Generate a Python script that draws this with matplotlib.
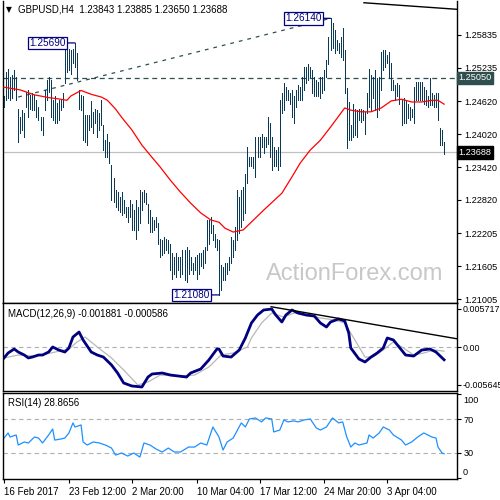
import matplotlib
matplotlib.use("Agg")
import matplotlib.pyplot as plt
import numpy as np

plt.rcParams['font.family'] = ['Liberation Sans', 'DejaVu Sans']

# ---------------- data ----------------
highs = [
    1.2471,1.2516,1.2522,1.2507,1.2510,1.2519,1.2507,1.2449,1.2434,1.2446,1.2440,1.2480,1.2483,1.2474,1.2477,1.2474,1.2465,1.2452,1.2434,1.2434,
    1.2483,1.2501,1.2507,1.2501,1.2465,1.2471,1.2459,1.2465,1.2465,1.2477,1.2556,1.2559,1.2557,1.2556,1.2557,1.2569,1.2550,1.2483,1.2474,1.2471,
    1.2437,1.2437,1.2437,1.2462,1.2443,1.2449,1.2446,1.2440,1.2465,1.2419,1.2391,1.2403,1.2388,
    1.2346,1.2321,1.2300,1.2297,1.2288,1.2297,1.2281,1.2269,1.2269,1.2281,1.2275,1.2263,1.2281,1.2269,1.2300,1.2297,1.2300,1.2294,1.2275,1.2263,
    1.2251,1.2245,1.2251,1.2239,1.2211,1.2208,1.2214,1.2211,1.2208,1.2202,1.2184,1.2178,1.2184,1.2178,1.2178,1.2190,1.2190,1.2196,1.2190,1.2178,
    1.2166,1.2178,1.2181,1.2184,1.2184,1.2190,1.2196,1.2245,1.2245,1.2251,1.2236,1.2220,1.2211,1.2208,1.2163,
    1.2159,1.2166,1.2166,1.2178,1.2214,1.2208,1.2233,1.2300,1.2288,1.2300,1.2306,1.2330,1.2379,1.2361,1.2361,1.2361,1.2397,1.2397,1.2397,1.2403,
    1.2397,1.2397,1.2434,1.2422,1.2397,1.2379,1.2373,1.2379,1.2465,1.2477,1.2495,1.2489,1.2483,1.2477,1.2483,1.2471,1.2483,1.2492,1.2489,1.2507,
    1.2525,1.2525,1.2531,1.2525,1.2519,1.2507,1.2501,1.2498,1.2507,1.2507,1.2519,1.2538,1.2580,
    1.2614,1.2605,1.2593,1.2574,1.2568,1.2580,1.2596,1.2556,
    1.2486,1.2461,1.2419,1.2458,1.2449,1.2446,1.2449,1.2449,1.2446,1.2443,1.2477,1.2522,1.2510,1.2507,1.2519,1.2504,1.2507,1.2553,1.2556,1.2556,
    1.2547,1.2553,1.2532,1.2501,1.2492,1.2495,1.2492,1.2465,1.2468,1.2465,1.2458,1.2452,1.2449,1.2489,1.2498,1.2498,1.2498,1.2498,1.2489,1.2483,
    1.2471,1.2504,1.2477,1.2474,1.2477,1.2477,1.2413,1.2410,1.2388]
lows = [
    1.2452,1.2464,1.2468,1.2464,1.2468,1.2483,1.2464,1.2388,1.2404,1.2410,1.2397,1.2452,1.2434,1.2449,1.2446,1.2446,1.2434,1.2428,1.2410,1.2401,
    1.2446,1.2465,1.2480,1.2434,1.2428,1.2422,1.2422,1.2428,1.2446,1.2452,1.2495,1.2516,1.2519,1.2513,1.2532,1.2525,1.2501,1.2449,1.2446,1.2391,
    1.2388,1.2382,1.2410,1.2416,1.2404,1.2422,1.2397,1.2410,1.2419,1.2373,1.2361,1.2361,1.2349,
    1.2281,1.2278,1.2269,1.2263,1.2260,1.2254,1.2257,1.2251,1.2242,1.2251,1.2227,1.2227,1.2211,1.2227,1.2239,1.2263,1.2278,1.2275,1.2239,1.2224,
    1.2224,1.2227,1.2233,1.2202,1.2178,1.2181,1.2184,1.2190,1.2184,1.2154,1.2138,1.2147,1.2141,1.2154,1.2141,1.2147,1.2135,1.2132,1.2147,1.2154,
    1.2147,1.2154,1.2138,1.2147,1.2160,1.2157,1.2166,1.2190,1.2202,1.2221,1.2208,1.2196,1.2190,1.2108,1.2117,
    1.2135,1.2135,1.2147,1.2154,1.2166,1.2178,1.2190,1.2208,1.2221,1.2233,1.2245,1.2257,1.2312,1.2343,1.2343,1.2340,1.2324,1.2361,1.2361,1.2379,
    1.2367,1.2379,1.2385,1.2361,1.2336,1.2343,1.2343,1.2336,1.2343,1.2440,1.2446,1.2465,1.2465,1.2458,1.2434,1.2422,1.2452,1.2465,1.2465,1.2465,
    1.2483,1.2495,1.2501,1.2507,1.2477,1.2471,1.2471,1.2471,1.2468,1.2477,1.2483,1.2507,1.2531,
    1.2556,1.2559,1.2550,1.2556,1.2550,1.2544,1.2538,1.2477,
    1.2376,1.2391,1.2391,1.2397,1.2400,1.2397,1.2428,1.2425,1.2428,1.2403,1.2440,1.2452,1.2446,1.2468,1.2446,1.2434,1.2446,1.2483,1.2519,1.2525,
    1.2532,1.2504,1.2483,1.2483,1.2465,1.2471,1.2458,1.2419,1.2422,1.2422,1.2431,1.2428,1.2434,1.2422,1.2465,1.2465,1.2465,1.2465,1.2458,1.2455,
    1.2452,1.2455,1.2455,1.2452,1.2452,1.2428,1.2382,1.2382,1.2365]

ma_idx = [0,8,15,22,28,31,33,38,43,48,51,55,58,63,68,72,77,82,87,92,97,102,106,109,113,118,123,128,137,142,146,151,156,161,168,171,176,181,186,191,196,201,206,211,214,217]
ma_val = [1.2488,1.2483,1.2474,1.2469,1.2466,1.2464,1.2472,1.2482,1.2475,1.2470,1.2464,1.2448,1.2433,1.2410,1.2382,1.2364,1.2342,1.2318,1.2296,1.2276,
          1.2258,1.2245,1.2241,1.2230,1.2223,1.2227,1.2245,1.2263,1.2294,1.2324,1.2349,1.2373,1.2391,1.2415,1.2450,1.2446,1.2443,1.2443,1.2450,1.2463,
          1.2466,1.2461,1.2461,1.2464,1.2464,1.2457]

macd_idx = [0,2,5,7,10,12,14,17,19,22,24,27,30,32,34,37,39,43,46,49,53,56,59,63,68,71,73,78,82,86,90,92,97,101,105,106,108,112,116,119,
            122,125,128,132,134,137,139,142,145,149,153,156,159,161,165,168,170,171,175,178,181,184,187,189,192,194,198,202,206,210,213,217]
macd_val = [-0.00161,-0.00087,-0.00027,-0.00072,-0.00117,-0.00161,-0.00147,-0.00117,-0.00117,-0.00072,0.00003,-0.00042,-0.00072,-0.00012,0.00152,0.00227,
            0.00108,-0.00072,-0.00117,-0.00147,-0.00266,-0.00386,-0.00535,-0.00580,-0.00595,-0.00446,-0.00401,-0.00386,-0.00416,-0.00431,-0.00446,-0.00386,
            -0.00326,-0.00191,-0.00027,-0.00027,-0.00132,-0.00147,-0.00042,0.00138,0.00362,0.00481,0.00556,0.00571,0.00481,0.00377,0.00481,0.00556,
            0.00511,0.00481,0.00466,0.00362,0.00302,0.00377,0.00422,0.00392,0.00212,-0.00012,-0.00176,-0.00221,-0.00147,-0.00087,-0.00012,0.00138,
            0.00108,0.00033,-0.00117,-0.00132,-0.00042,-0.00027,-0.00072,-0.00188]

signal_idx = [0,7,15,23,32,36,40,46,53,59,66,71,77,86,94,101,107,113,120,122,127,132,138,143,150,156,163,168,173,178,182,187,192,197,202,207,212,217]
signal_val = [-0.00161,-0.00117,-0.00132,-0.00087,-0.00027,0.00078,0.00152,0.00003,-0.00161,-0.00341,-0.00565,-0.00520,-0.00416,-0.00431,-0.00416,
              -0.00296,-0.00117,-0.00087,0.00003,0.00138,0.00362,0.00511,0.00451,0.00511,0.00481,0.00437,0.00407,0.00362,0.00108,-0.00147,-0.00147,
              -0.00042,0.00078,-0.00012,-0.00117,-0.00087,-0.00042,-0.00059]

rsi_idx = [0,2,3,6,7,10,12,15,17,19,22,24,25,28,30,32,34,35,38,39,41,44,47,50,53,55,58,61,64,67,69,72,75,78,81,84,87,91,94,97,100,103,106,108,110,113,
           117,119,121,124,127,129,132,133,136,138,140,143,145,148,151,154,156,159,162,165,167,169,171,173,175,179,180,182,185,187,190,192,196,198,201,
           204,207,209,211,213,214,216,217]
rsi_val = [47.6,53.6,48.8,51.2,39.3,42.9,41.7,48.8,47.6,41.7,51.2,58.3,45.2,46.4,47.6,53.6,65.5,60.7,63.1,42.9,39.3,42.9,41.7,39.3,35.7,27.4,29.8,26.2,
           29.8,25.0,41.7,39.3,34.5,31.0,35.7,31.0,31.0,36.9,36.9,41.7,39.3,60.7,48.8,33.3,42.9,47.6,65.5,60.7,70.2,71.4,66.7,71.4,70.2,54.8,57.1,69.0,
           66.7,67.9,66.7,69.0,70.2,59.5,57.1,60.7,71.4,65.5,66.7,48.8,36.9,41.7,39.3,41.7,51.2,47.6,53.6,60.7,57.1,51.2,45.2,39.3,42.9,48.8,53.6,51.2,
           48.8,47.6,36.9,29.8,28.9]

price_ticks = [1.25835, 1.25235, 1.24620, 1.24020, 1.23420, 1.22820, 1.22205, 1.21605, 1.21005]
level_line = 1.25050
last_price = 1.23688
ohlc_text = "1.23843 1.23885 1.23650 1.23688"
symbol = "GBPUSD,H4"
high_labels = [(35, 1.25690), (161, 1.26140)]
low_labels = [(106, 1.21080)]
trend_dash = [(7, 1.2470), (161, 1.26140)]
trend_top = [(177.5, 1.26425), (223.4, 1.26305)]
macd_trend = [(131.7, 0.00605), (223.9, 0.00123)]
macd_ticks = [0.005717, 0.0, -0.005645]
macd_tick_labels = ['0.005717', '0.00', '-0.005645']
date_idx = [0, 32, 63, 95, 126, 158, 189]
date_labels = ['16 Feb 2017', '23 Feb 12:00', '2 Mar 20:00', '10 Mar 04:00', '17 Mar 12:00', '24 Mar 20:00', '3 Apr 04:00']

# ---------------- figure ----------------
W = H = 500
fig = plt.figure(figsize=(5, 5), dpi=100)
fig.patch.set_facecolor('white')

def axrect(x0, y0, x1, y1):
    return [x0 / W, 1 - y1 / H, (x1 - x0) / W, (y1 - y0) / H]

ax = fig.add_axes(axrect(3, 1, 457, 303))
axm = fig.add_axes(axrect(3, 303, 457, 391), sharex=ax)
axr = fig.add_axes(axrect(3, 393, 457, 479), sharex=ax)

n = len(highs)
xs = np.arange(n)
ax.set_xlim(-0.5, -0.5 + 454 / 2.028)

bar_col = '#0b3a59'
navy = '#000080'
slate = '#2f4f4f'
fs = 6.6

# main panel
ax.set_ylim(1.20932, 1.26457)
ax.axhline(last_price, color='#c0c0c0', lw=0.9, zorder=1)
ax.axhline(level_line, color=slate, lw=0.9, ls=(0, (4, 3)), zorder=2)
ax.plot([p[0] for p in trend_dash], [p[1] for p in trend_dash], color=slate, lw=0.9, ls=(0, (3, 4)), zorder=2)
ax.plot([p[0] for p in trend_top], [p[1] for p in trend_top], color='black', lw=1.0, zorder=2, clip_on=False)
ax.vlines(xs, lows, highs, color=bar_col, lw=0.72, antialiased=False, zorder=3)
ax.plot(ma_idx, ma_val, color='red', lw=0.9, zorder=4)

ax.text(0.58, 0.095, 'ActionForex.com', fontsize=17, color='#c8c8c8', ha='left', va='center',
        transform=ax.transAxes, zorder=0)

for (i, p) in high_labels + low_labels:
    ax.annotate(f'{p:.5f}', xy=(i, p), xytext=(-9, 0), textcoords='offset pixels',
                ha='right', va='center', fontsize=fs + 0.6, color=navy,
                bbox=dict(boxstyle='square,pad=0.12', fc='white', ec=navy, lw=0.9),
                arrowprops=dict(arrowstyle='-', color=navy, lw=0.9, shrinkA=0, shrinkB=0), zorder=6)

fig.text(6 / W, 1 - 10 / H, '\u25bc', fontsize=5.5, color='black', va='center', ha='left', family=['DejaVu Sans'])
fig.text(18 / W, 1 - 10 / H, f'{symbol}  {ohlc_text}', fontsize=fs + 0.4, color='black', va='center', ha='left')

ax.yaxis.tick_right()
ax.set_yticks(price_ticks)
ax.set_yticklabels([f'{t:.5f}' for t in price_ticks])
ax.tick_params(axis='y', labelsize=fs, length=3, pad=2, colors='black')
ax.tick_params(axis='x', bottom=False, labelbottom=False)
ax.spines['top'].set_visible(False)

ytr = ax.get_yaxis_transform()
ax.text(1.003, level_line, f'{level_line:.5f}', transform=ytr, fontsize=fs, color='white', va='center', ha='left',
        bbox=dict(boxstyle='square,pad=0.2', fc=slate, ec=slate), clip_on=False, zorder=10)
ax.text(1.003, last_price, f'{last_price:.5f}', transform=ytr, fontsize=fs, color='white', va='center', ha='left',
        bbox=dict(boxstyle='square,pad=0.2', fc='black', ec='black'), clip_on=False, zorder=10)

# MACD panel
axm.set_ylim(-0.00655, 0.00661)
axm.axhline(0, color='#b0b0b0', lw=0.8, ls=(0, (4, 3)))
axm.plot(signal_idx, signal_val, color='#b8b8b8', lw=0.9)
axm.plot(macd_idx, macd_val, color=navy, lw=2.0)
axm.plot([p[0] for p in macd_trend], [p[1] for p in macd_trend], color='black', lw=1.0)
axm.yaxis.tick_right()
axm.set_yticks(macd_ticks)
axm.set_yticklabels(macd_tick_labels)
axm.tick_params(axis='y', labelsize=6.4, length=3, pad=1)
axm.tick_params(axis='x', bottom=False, labelbottom=False)
axm.text(0.01, 0.88, 'MACD(12,26,9) -0.001881 -0.000586', transform=axm.transAxes, fontsize=fs + 0.4, va='center', ha='left')

# RSI panel
axr.set_ylim(-1, 101)
axr.axhline(70, color='#b0b0b0', lw=0.8, ls=(0, (4, 3)))
axr.axhline(30, color='#b0b0b0', lw=0.8, ls=(0, (4, 3)))
axr.plot(rsi_idx, rsi_val, color='#1e90ff', lw=0.9)
axr.yaxis.tick_right()
axr.set_yticks([0, 30, 70, 100])
axr.set_yticklabels(['', '30', '70', ''])
axr.tick_params(axis='y', labelsize=fs, length=3, pad=2)
rtr = axr.get_yaxis_transform()
axr.text(1.013, 92.5, '100', transform=rtr, fontsize=fs, va='center', ha='left')
axr.text(1.013, 7.3, '0', transform=rtr, fontsize=fs, va='center', ha='left')
axr.text(0.01, 0.88, 'RSI(14) 28.8656', transform=axr.transAxes, fontsize=fs + 0.4, va='center', ha='left')

axr.set_xticks(date_idx)
axr.set_xticklabels(date_labels)
axr.tick_params(axis='x', labelsize=fs + 0.4, length=3, pad=3)
for lab in axr.get_xticklabels():
    lab.set_ha('left')

for a in (ax, axm, axr):
    for s in a.spines.values():
        s.set_linewidth(1.0)
        s.set_color('black')

fig.savefig('out.png', dpi=100, facecolor='white')
